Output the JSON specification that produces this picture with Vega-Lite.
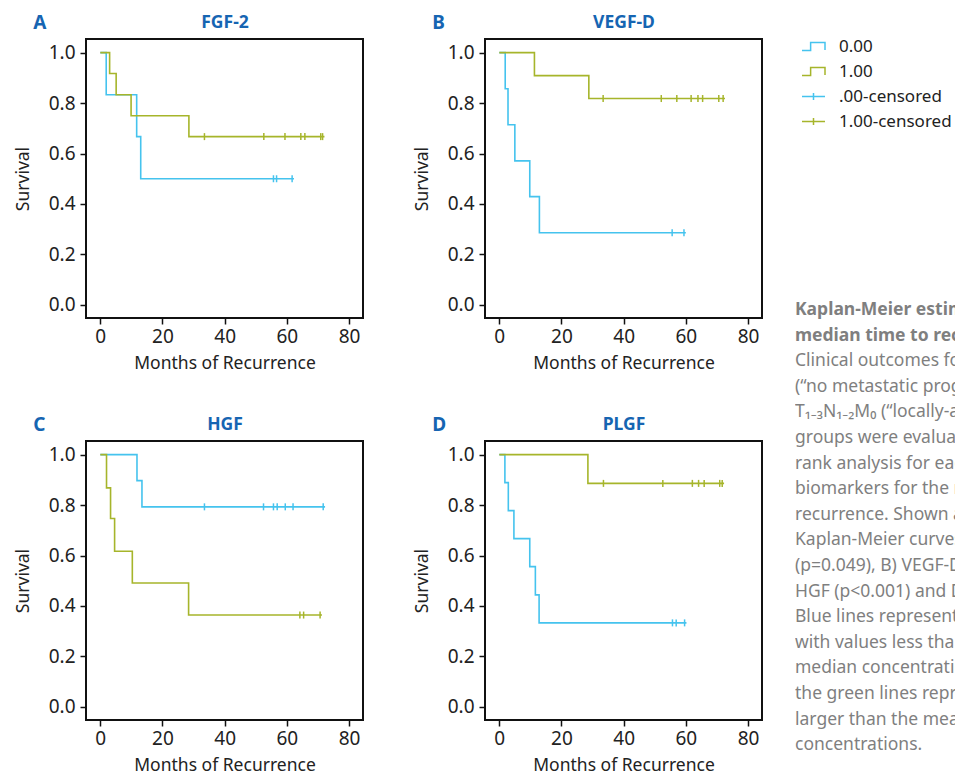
{
  "$schema": "https://vega.github.io/schema/vega-lite/v6.json",
  "padding": {"left": 13, "top": 12, "right": 0, "bottom": 0},
  "background": "white",
  "config": {
    "font": "Noto Sans",
    "view": {"stroke": "#111111", "strokeWidth": 2},
    "axis": {
      "grid": false, "domain": false,
      "labelFont": "Noto Sans", "titleFont": "Noto Sans",
      "labelFontSize": 19, "titleFontSize": 17.5, "titleFontWeight": "normal",
      "labelColor": "#222222", "titleColor": "#222222",
      "tickColor": "#111111", "tickWidth": 1.5, "tickSize": 6
    },
    "title": {"offset": 0}
  },
  "datasets": {
    "curves": [
      {"panel": "FGF-2", "g": "0.00", "t": 0, "s": 1},
      {"panel": "FGF-2", "g": "0.00", "t": 1.9, "s": 0.833},
      {"panel": "FGF-2", "g": "0.00", "t": 11.7, "s": 0.667},
      {"panel": "FGF-2", "g": "0.00", "t": 13.0, "s": 0.5},
      {"panel": "FGF-2", "g": "0.00", "t": 62.3, "s": 0.5},
      {"panel": "FGF-2", "g": "1.00", "t": 0, "s": 1},
      {"panel": "FGF-2", "g": "1.00", "t": 3.0, "s": 0.917},
      {"panel": "FGF-2", "g": "1.00", "t": 5.1, "s": 0.833},
      {"panel": "FGF-2", "g": "1.00", "t": 9.9, "s": 0.75},
      {"panel": "FGF-2", "g": "1.00", "t": 28.5, "s": 0.667},
      {"panel": "FGF-2", "g": "1.00", "t": 72.1, "s": 0.667},
      {"panel": "VEGF-D", "g": "0.00", "t": 0, "s": 1},
      {"panel": "VEGF-D", "g": "0.00", "t": 1.9, "s": 0.857},
      {"panel": "VEGF-D", "g": "0.00", "t": 2.8, "s": 0.714},
      {"panel": "VEGF-D", "g": "0.00", "t": 5.0, "s": 0.571},
      {"panel": "VEGF-D", "g": "0.00", "t": 9.8, "s": 0.429},
      {"panel": "VEGF-D", "g": "0.00", "t": 12.9, "s": 0.286},
      {"panel": "VEGF-D", "g": "0.00", "t": 60.0, "s": 0.286},
      {"panel": "VEGF-D", "g": "1.00", "t": 0, "s": 1},
      {"panel": "VEGF-D", "g": "1.00", "t": 11.3, "s": 0.909},
      {"panel": "VEGF-D", "g": "1.00", "t": 28.8, "s": 0.818},
      {"panel": "VEGF-D", "g": "1.00", "t": 72.6, "s": 0.818},
      {"panel": "HGF", "g": "0.00", "t": 0, "s": 1},
      {"panel": "HGF", "g": "0.00", "t": 11.8, "s": 0.897},
      {"panel": "HGF", "g": "0.00", "t": 13.4, "s": 0.793},
      {"panel": "HGF", "g": "0.00", "t": 72.3, "s": 0.793},
      {"panel": "HGF", "g": "1.00", "t": 0, "s": 1},
      {"panel": "HGF", "g": "1.00", "t": 2.0, "s": 0.868},
      {"panel": "HGF", "g": "1.00", "t": 3.3, "s": 0.747},
      {"panel": "HGF", "g": "1.00", "t": 4.6, "s": 0.617},
      {"panel": "HGF", "g": "1.00", "t": 10.3, "s": 0.491},
      {"panel": "HGF", "g": "1.00", "t": 28.4, "s": 0.364},
      {"panel": "HGF", "g": "1.00", "t": 71.3, "s": 0.364},
      {"panel": "PLGF", "g": "0.00", "t": 0, "s": 1},
      {"panel": "PLGF", "g": "0.00", "t": 1.8, "s": 0.889},
      {"panel": "PLGF", "g": "0.00", "t": 2.9, "s": 0.778},
      {"panel": "PLGF", "g": "0.00", "t": 4.7, "s": 0.667},
      {"panel": "PLGF", "g": "0.00", "t": 9.8, "s": 0.556},
      {"panel": "PLGF", "g": "0.00", "t": 11.6, "s": 0.444},
      {"panel": "PLGF", "g": "0.00", "t": 12.8, "s": 0.333},
      {"panel": "PLGF", "g": "0.00", "t": 60.2, "s": 0.333},
      {"panel": "PLGF", "g": "1.00", "t": 0, "s": 1},
      {"panel": "PLGF", "g": "1.00", "t": 28.5, "s": 0.886},
      {"panel": "PLGF", "g": "1.00", "t": 72.3, "s": 0.886}
    ],
    "censored": [
      {"panel": "FGF-2", "g": "0.00", "t": 55.7, "s": 0.5},
      {"panel": "FGF-2", "g": "0.00", "t": 56.7, "s": 0.5},
      {"panel": "FGF-2", "g": "0.00", "t": 61.7, "s": 0.5},
      {"panel": "FGF-2", "g": "1.00", "t": 33.5, "s": 0.667},
      {"panel": "FGF-2", "g": "1.00", "t": 52.6, "s": 0.667},
      {"panel": "FGF-2", "g": "1.00", "t": 59.4, "s": 0.667},
      {"panel": "FGF-2", "g": "1.00", "t": 64.5, "s": 0.667},
      {"panel": "FGF-2", "g": "1.00", "t": 65.8, "s": 0.667},
      {"panel": "FGF-2", "g": "1.00", "t": 70.9, "s": 0.667},
      {"panel": "FGF-2", "g": "1.00", "t": 71.5, "s": 0.667},
      {"panel": "VEGF-D", "g": "0.00", "t": 55.6, "s": 0.286},
      {"panel": "VEGF-D", "g": "0.00", "t": 59.4, "s": 0.286},
      {"panel": "VEGF-D", "g": "1.00", "t": 33.4, "s": 0.818},
      {"panel": "VEGF-D", "g": "1.00", "t": 52.1, "s": 0.818},
      {"panel": "VEGF-D", "g": "1.00", "t": 57.1, "s": 0.818},
      {"panel": "VEGF-D", "g": "1.00", "t": 61.7, "s": 0.818},
      {"panel": "VEGF-D", "g": "1.00", "t": 63.9, "s": 0.818},
      {"panel": "VEGF-D", "g": "1.00", "t": 65.4, "s": 0.818},
      {"panel": "VEGF-D", "g": "1.00", "t": 70.6, "s": 0.818},
      {"panel": "VEGF-D", "g": "1.00", "t": 72.0, "s": 0.818},
      {"panel": "HGF", "g": "0.00", "t": 33.5, "s": 0.793},
      {"panel": "HGF", "g": "0.00", "t": 52.5, "s": 0.793},
      {"panel": "HGF", "g": "0.00", "t": 55.7, "s": 0.793},
      {"panel": "HGF", "g": "0.00", "t": 56.9, "s": 0.793},
      {"panel": "HGF", "g": "0.00", "t": 59.5, "s": 0.793},
      {"panel": "HGF", "g": "0.00", "t": 62.0, "s": 0.793},
      {"panel": "HGF", "g": "0.00", "t": 71.7, "s": 0.793},
      {"panel": "HGF", "g": "1.00", "t": 64.2, "s": 0.364},
      {"panel": "HGF", "g": "1.00", "t": 65.4, "s": 0.364},
      {"panel": "HGF", "g": "1.00", "t": 70.7, "s": 0.364},
      {"panel": "PLGF", "g": "0.00", "t": 55.7, "s": 0.333},
      {"panel": "PLGF", "g": "0.00", "t": 56.9, "s": 0.333},
      {"panel": "PLGF", "g": "0.00", "t": 59.6, "s": 0.333},
      {"panel": "PLGF", "g": "1.00", "t": 33.5, "s": 0.886},
      {"panel": "PLGF", "g": "1.00", "t": 52.6, "s": 0.886},
      {"panel": "PLGF", "g": "1.00", "t": 62.1, "s": 0.886},
      {"panel": "PLGF", "g": "1.00", "t": 64.1, "s": 0.886},
      {"panel": "PLGF", "g": "1.00", "t": 65.9, "s": 0.886},
      {"panel": "PLGF", "g": "1.00", "t": 70.9, "s": 0.886},
      {"panel": "PLGF", "g": "1.00", "t": 71.7, "s": 0.886}
    ],
    "caption": [
      {"line": 1, "col": 0, "w": "bold", "text": "Kaplan-Meier estimates of the"},
      {"line": 2, "col": 0, "w": "bold", "text": "median time to recurrence."},
      {"line": 3, "col": 0, "w": "normal", "text": "Clinical outcomes for patients with"},
      {"line": 4, "col": 0, "w": "normal", "text": "(“no metastatic progression”) and"},
      {"line": 5, "col": 0, "w": "normal", "text": "T₁₋₃N₁₋₂M₀ (“locally-advanced”)"},
      {"line": 6, "col": 0, "w": "normal", "text": "groups were evaluated using log-"},
      {"line": 7, "col": 0, "w": "normal", "text": "rank analysis for each of the"},
      {"line": 8, "col": 0, "w": "normal", "text": "biomarkers for the median time to"},
      {"line": 9, "col": 0, "w": "normal", "text": "recurrence. Shown are the"},
      {"line": 10, "col": 0, "w": "normal", "text": "Kaplan-Meier curves for A) FGF-2"},
      {"line": 11, "col": 0, "w": "normal", "text": "(p=0.049), B) VEGF-D (p<0.001), C)"},
      {"line": 12, "col": 0, "w": "normal", "text": "HGF (p<0.001) and D) PLGF (p=0.001)."},
      {"line": 13, "col": 0, "w": "normal", "text": "Blue lines represent the patients"},
      {"line": 14, "col": 0, "w": "normal", "text": "with values less than the mean"},
      {"line": 15, "col": 0, "w": "normal", "text": "median concentration of each,"},
      {"line": 16, "col": 0, "w": "normal", "text": "the green lines represent values"},
      {"line": 17, "col": 0, "w": "normal", "text": "larger than the mean median"},
      {"line": 18, "col": 0, "w": "normal", "text": "concentrations."}
    ],
    "legendItems": [
      {"g": "0.00"}, {"g": "1.00"}, {"g": ".00-censored"}, {"g": "1.00-censored"}
    ]
  },
  "resolve": {
    "scale": {"color": "independent", "shape": "independent"},
    "legend": {"color": "independent", "shape": "independent"}
  },
  "spacing": 32,
  "hconcat": [
    {
      "columns": 2,
      "spacing": {"row": 41, "column": 48},
      "concat": [
        {
          "width": 277, "height": 279,
          "title": {"text": "A", "anchor": "start", "frame": "bounds", "dx": 19, "dy": 24, "fontSize": 19, "fontWeight": "bold", "color": "#1665b2"},
          "layer": [
            {
              "data": {"name": "curves"},
              "transform": [{"filter": "datum.panel === 'FGF-2'"}],
              "mark": {"type": "line", "interpolate": "step-after", "strokeWidth": 1.6},
              "encoding": {
                "x": {"field": "t", "type": "quantitative", "scale": {"domain": [-4.6, 84.5], "nice": false, "zero": false}, "axis": {"orient": "bottom", "values": [0, 20, 40, 60, 80], "title": "Months of Recurrence", "labelPadding": 3, "titlePadding": 8, "labelFlush": false}},
                "y": {"field": "s", "type": "quantitative", "scale": {"domain": [-0.052, 1.054], "nice": false, "zero": false}, "axis": {"orient": "left", "values": [0, 0.2, 0.4, 0.6, 0.8, 1], "format": ".1f", "title": "Survival", "labelPadding": 5, "titlePadding": 16, "labelFlush": false}},
                "color": {"field": "g", "type": "nominal", "scale": {"domain": ["0.00", "1.00"], "range": ["#45c3ee", "#a6b52b"]}, "legend": null}
              }
            },
            {
              "data": {"name": "censored"},
              "transform": [{"filter": "datum.panel === 'FGF-2'"}],
              "mark": {"type": "tick", "orient": "vertical", "size": 7, "thickness": 1.5, "opacity": 1},
              "encoding": {
                "x": {"field": "t", "type": "quantitative", "axis": {"orient": "top", "labels": false, "ticks": false, "domain": false, "title": "FGF-2", "titleFontWeight": "bold", "titleColor": "#1665b2", "titleFontSize": 17.5, "titlePadding": 8}},
                "y": {"field": "s", "type": "quantitative", "axis": {"orient": "left", "values": [0, 0.2, 0.4, 0.6, 0.8, 1], "format": ".1f", "title": "Survival", "labelPadding": 5, "titlePadding": 16, "labelFlush": false}},
                "color": {"field": "g", "type": "nominal", "legend": null}
              }
            }
          ]
        },
        {
          "width": 277, "height": 279,
          "title": {"text": "B", "anchor": "start", "frame": "bounds", "dx": 19, "dy": 24, "fontSize": 19, "fontWeight": "bold", "color": "#1665b2"},
          "layer": [
            {
              "data": {"name": "curves"},
              "transform": [{"filter": "datum.panel === 'VEGF-D'"}],
              "mark": {"type": "line", "interpolate": "step-after", "strokeWidth": 1.6},
              "encoding": {
                "x": {"field": "t", "type": "quantitative", "scale": {"domain": [-4.6, 84.5], "nice": false, "zero": false}, "axis": {"orient": "bottom", "values": [0, 20, 40, 60, 80], "title": "Months of Recurrence", "labelPadding": 3, "titlePadding": 8, "labelFlush": false}},
                "y": {"field": "s", "type": "quantitative", "scale": {"domain": [-0.052, 1.054], "nice": false, "zero": false}, "axis": {"orient": "left", "values": [0, 0.2, 0.4, 0.6, 0.8, 1], "format": ".1f", "title": "Survival", "labelPadding": 5, "titlePadding": 16, "labelFlush": false}},
                "color": {"field": "g", "type": "nominal", "scale": {"domain": ["0.00", "1.00"], "range": ["#45c3ee", "#a6b52b"]}, "legend": null}
              }
            },
            {
              "data": {"name": "censored"},
              "transform": [{"filter": "datum.panel === 'VEGF-D'"}],
              "mark": {"type": "tick", "orient": "vertical", "size": 7, "thickness": 1.5, "opacity": 1},
              "encoding": {
                "x": {"field": "t", "type": "quantitative", "axis": {"orient": "top", "labels": false, "ticks": false, "domain": false, "title": "VEGF-D", "titleFontWeight": "bold", "titleColor": "#1665b2", "titleFontSize": 17.5, "titlePadding": 8}},
                "y": {"field": "s", "type": "quantitative", "axis": {"orient": "left", "values": [0, 0.2, 0.4, 0.6, 0.8, 1], "format": ".1f", "title": "Survival", "labelPadding": 5, "titlePadding": 16, "labelFlush": false}},
                "color": {"field": "g", "type": "nominal", "legend": null}
              }
            }
          ]
        },
        {
          "width": 277, "height": 279,
          "title": {"text": "C", "anchor": "start", "frame": "bounds", "dx": 19, "dy": 24, "fontSize": 19, "fontWeight": "bold", "color": "#1665b2"},
          "layer": [
            {
              "data": {"name": "curves"},
              "transform": [{"filter": "datum.panel === 'HGF'"}],
              "mark": {"type": "line", "interpolate": "step-after", "strokeWidth": 1.6},
              "encoding": {
                "x": {"field": "t", "type": "quantitative", "scale": {"domain": [-4.6, 84.5], "nice": false, "zero": false}, "axis": {"orient": "bottom", "values": [0, 20, 40, 60, 80], "title": "Months of Recurrence", "labelPadding": 3, "titlePadding": 8, "labelFlush": false}},
                "y": {"field": "s", "type": "quantitative", "scale": {"domain": [-0.052, 1.054], "nice": false, "zero": false}, "axis": {"orient": "left", "values": [0, 0.2, 0.4, 0.6, 0.8, 1], "format": ".1f", "title": "Survival", "labelPadding": 5, "titlePadding": 16, "labelFlush": false}},
                "color": {"field": "g", "type": "nominal", "scale": {"domain": ["0.00", "1.00"], "range": ["#45c3ee", "#a6b52b"]}, "legend": null}
              }
            },
            {
              "data": {"name": "censored"},
              "transform": [{"filter": "datum.panel === 'HGF'"}],
              "mark": {"type": "tick", "orient": "vertical", "size": 7, "thickness": 1.5, "opacity": 1},
              "encoding": {
                "x": {"field": "t", "type": "quantitative", "axis": {"orient": "top", "labels": false, "ticks": false, "domain": false, "title": "HGF", "titleFontWeight": "bold", "titleColor": "#1665b2", "titleFontSize": 17.5, "titlePadding": 8}},
                "y": {"field": "s", "type": "quantitative", "axis": {"orient": "left", "values": [0, 0.2, 0.4, 0.6, 0.8, 1], "format": ".1f", "title": "Survival", "labelPadding": 5, "titlePadding": 16, "labelFlush": false}},
                "color": {"field": "g", "type": "nominal", "legend": null}
              }
            }
          ]
        },
        {
          "width": 277, "height": 279,
          "title": {"text": "D", "anchor": "start", "frame": "bounds", "dx": 19, "dy": 24, "fontSize": 19, "fontWeight": "bold", "color": "#1665b2"},
          "layer": [
            {
              "data": {"name": "curves"},
              "transform": [{"filter": "datum.panel === 'PLGF'"}],
              "mark": {"type": "line", "interpolate": "step-after", "strokeWidth": 1.6},
              "encoding": {
                "x": {"field": "t", "type": "quantitative", "scale": {"domain": [-4.6, 84.5], "nice": false, "zero": false}, "axis": {"orient": "bottom", "values": [0, 20, 40, 60, 80], "title": "Months of Recurrence", "labelPadding": 3, "titlePadding": 8, "labelFlush": false}},
                "y": {"field": "s", "type": "quantitative", "scale": {"domain": [-0.052, 1.054], "nice": false, "zero": false}, "axis": {"orient": "left", "values": [0, 0.2, 0.4, 0.6, 0.8, 1], "format": ".1f", "title": "Survival", "labelPadding": 5, "titlePadding": 16, "labelFlush": false}},
                "color": {"field": "g", "type": "nominal", "scale": {"domain": ["0.00", "1.00"], "range": ["#45c3ee", "#a6b52b"]}, "legend": null}
              }
            },
            {
              "data": {"name": "censored"},
              "transform": [{"filter": "datum.panel === 'PLGF'"}],
              "mark": {"type": "tick", "orient": "vertical", "size": 7, "thickness": 1.5, "opacity": 1},
              "encoding": {
                "x": {"field": "t", "type": "quantitative", "axis": {"orient": "top", "labels": false, "ticks": false, "domain": false, "title": "PLGF", "titleFontWeight": "bold", "titleColor": "#1665b2", "titleFontSize": 17.5, "titlePadding": 8}},
                "y": {"field": "s", "type": "quantitative", "axis": {"orient": "left", "values": [0, 0.2, 0.4, 0.6, 0.8, 1], "format": ".1f", "title": "Survival", "labelPadding": 5, "titlePadding": 16, "labelFlush": false}},
                "color": {"field": "g", "type": "nominal", "legend": null}
              }
            }
          ]
        }
      ]
    },
    {
      "width": 160, "height": 725,
      "view": {"stroke": null},
      "layer": [
        {
          "data": {"name": "caption"},
          "transform": [{"filter": "datum.w === 'bold'"}],
          "mark": {"type": "text", "align": "left", "baseline": "middle", "clip": true, "fontSize": 17.5, "fontWeight": "bold", "color": "#7f7f7f"},
          "encoding": {
            "x": {"field": "col", "type": "quantitative", "scale": {"domain": [0, 1]}, "axis": null},
            "y": {"field": "line", "type": "quantitative", "scale": {"domain": [-9.586, 18.73], "reverse": true, "nice": false, "zero": false}, "axis": null},
            "text": {"field": "text"}
          }
        },
        {
          "data": {"name": "caption"},
          "transform": [{"filter": "datum.w === 'normal'"}],
          "mark": {"type": "text", "align": "left", "baseline": "middle", "clip": true, "fontSize": 17.5, "color": "#7f7f7f"},
          "encoding": {
            "x": {"field": "col", "type": "quantitative", "axis": null},
            "y": {"field": "line", "type": "quantitative", "axis": null},
            "text": {"field": "text"}
          }
        },
        {
          "data": {"name": "legendItems"},
          "mark": {"type": "point", "opacity": 0, "filled": false, "strokeWidth": 1.5},
          "encoding": {
            "color": {"field": "g", "type": "nominal", "scale": {"domain": ["0.00", "1.00", ".00-censored", "1.00-censored"], "range": ["#45c3ee", "#a6b52b", "#45c3ee", "#a6b52b"]},
              "legend": {"orient": "none", "legendX": 6, "legendY": -5, "title": null, "labelFontSize": 17, "labelColor": "#222222", "labelFont": "Noto Sans", "symbolSize": 529, "symbolStrokeWidth": 1.5, "rowPadding": 4, "labelOffset": 13, "padding": 0}},
            "shape": {"field": "g", "type": "nominal", "scale": {"domain": ["0.00", "1.00", ".00-censored", "1.00-censored"], "range": ["M-1,0.35H-0.25V-0.35H1V0.3", "M-1,0.35H-0.25V-0.35H1V0.3", "M-1,0H1M0,-0.3V0.3", "M-1,0H1M0,-0.3V0.3"]}}
          }
        }
      ]
    }
  ]
}
